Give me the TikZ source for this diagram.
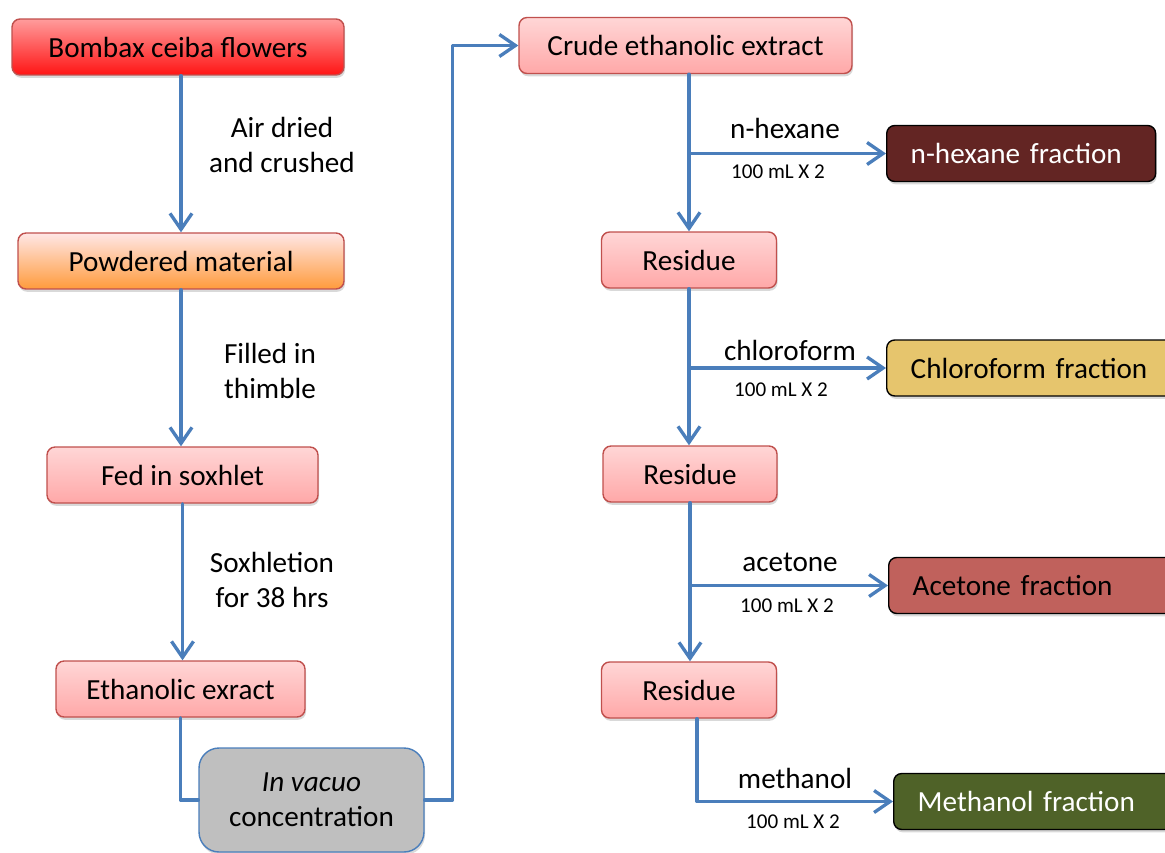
\documentclass[tikz,border=0pt]{standalone}
\usepackage{fontspec}
\setmainfont{Carlito}
\usepackage{tikz}
\usepackage{xcolor}
\usetikzlibrary{arrows.meta,calc,positioning,shadows}
\definecolor{flowblue}{HTML}{4A7EBB}
\definecolor{boxred}{HTML}{C0504D}
\definecolor{pinktop}{HTML}{FFD6D6}
\definecolor{pinkbottom}{HTML}{FFA8A8}
\definecolor{redtop}{HTML}{FF9C9C}
\definecolor{redbottom}{HTML}{FF1414}
\definecolor{orangebottom}{HTML}{FF9B3C}
\definecolor{hexanefill}{HTML}{632523}
\definecolor{chlorofill}{HTML}{E6C56D}
\definecolor{acetonefill}{HTML}{C0615C}
\definecolor{methanolfill}{HTML}{4F6228}
\definecolor{vacuofill}{HTML}{BFBFBF}
\newcommand{\flowfont}{\fontsize{16.6}{20}\selectfont}
\newcommand{\dosefont}{\fontsize{12}{14}\selectfont}
\tikzset{
  every picture/.append style={line cap=round,line join=round},
  flow box/.style={draw=boxred,line width=0.8pt,rounded corners=0.16cm,inner sep=0pt,
    minimum height=1.12cm,font=\flowfont,
    drop shadow={opacity=0.3,shadow xshift=0.6pt,shadow yshift=-1.6pt}},
  flow pink/.style={flow box,top color=pinktop,bottom color=pinkbottom},
  flow fraction/.style={flow box,draw=black,anchor=west,align=left,inner xsep=0.48cm},
  flow line/.style={flowblue,line width=1.9pt},
  flow arrow/.style={flow line,-{Straight Barb[length=3.2mm,width=4.4mm]}},
  flow note/.style={font=\flowfont,align=center},
  flow dose/.style={font=\dosefont}
}
\begin{document}
\begin{tikzpicture}[x=0.02cm,y=-0.02cm]
  \useasboundingbox (0,0) rectangle (1165,852);
  % left column
  \node[flow box,top color=redtop,bottom color=redbottom,minimum width=6.64cm] (bombax) at (178,47) {Bombax ceiba flowers\hspace{0.45cm}};
  \node[flow box,top color=pinktop!60,bottom color=orangebottom,minimum width=6.52cm] (powder) at (181,261) {Powdered material};
  \node[flow pink,minimum width=5.42cm] (fed) at (182.5,475) {Fed in soxhlet};
  \node[flow pink,minimum width=4.98cm] (ethanol) at (180.5,689) {Ethanolic exract};
  \node[flow box,draw=flowblue,fill=vacuofill,rounded corners=0.4cm,minimum width=4.5cm,minimum height=2.08cm,align=center] (vacuo) at (311.5,800) {\textit{In vacuo}\\concentration};
  \node[flow note] (airdried) at (282,145) {Air dried\\and crushed};
  \node[flow note] (filled) at (270,371) {Filled in\\thimble};
  \node[flow note] (soxhletion) at (272,580) {Soxhletion\\for 38 hrs};
  \draw[flow arrow] (powder.north |- bombax.south) -- (powder.north);
  \draw[flow arrow] (powder.south) -- (powder.south |- fed.north);
  \draw[flow arrow] (fed.south) -- (fed.south |- ethanol.north);
  \draw[flow line] (ethanol.south) |- (vacuo.west);
  % right column
  \node[flow pink,minimum width=6.66cm] (crude) at (685.5,45.5) {Crude ethanolic extract};
  \node[flow pink,minimum width=3.5cm] (res1) at (689,260) {Residue};
  \node[flow pink,minimum width=3.48cm] (res2) at (690,474) {Residue};
  \node[flow pink,minimum width=3.5cm] (res3) at (689,690) {Residue};
  \node[flow fraction,fill=hexanefill,text=white,text width=4.42cm] (hexane) at (886,153.5) {n-hexane fraction};
  \node[flow fraction,fill=chlorofill,text width=4.84cm] (chloro) at (886,368) {Chloroform fraction};
  \node[flow fraction,fill=acetonefill,text width=4.8cm] (acetone) at (888,585.5) {Acetone fraction};
  \node[flow fraction,fill=methanolfill,text=white,text width=4.7cm] (methanol) at (893,801.5) {Methanol fraction};
  \node[flow note] (hexanelabel) at (785,128) {n-hexane};
  \node[flow note] (chlorolabel) at (790,350) {chloroform};
  \node[flow note] (acetonelabel) at (790,562) {acetone};
  \node[flow note] (methanollabel) at (795,778) {methanol};
  \foreach \n/\x/\y in {hexanedose/778/172,chlorodose/781/390,acetonedose/787/606,methanoldose/793/822}
    \node[flow dose] (\n) at (\x,\y) {100 mL X 2};
  \draw[flow arrow] (vacuo.east) -- ++(28,0) |- (crude.west);
  \draw[flow arrow] (crude.south -| res1.north) -- (res1.north);
  \draw[flow arrow] (res1.north |- hexane.west) -- (hexane.west);
  \draw[flow arrow] (res1.south) -- (res1.south |- res2.north);
  \draw[flow arrow] (res1.south |- chloro.west) -- (chloro.west);
  \draw[flow arrow] (res2.south) -- (res2.south |- res3.north);
  \draw[flow arrow] (res2.south |- acetone.west) -- (acetone.west);
  \draw[flow arrow] ($(res3.south)+(8,0)$) |- (methanol.west);
\end{tikzpicture}
\end{document}
